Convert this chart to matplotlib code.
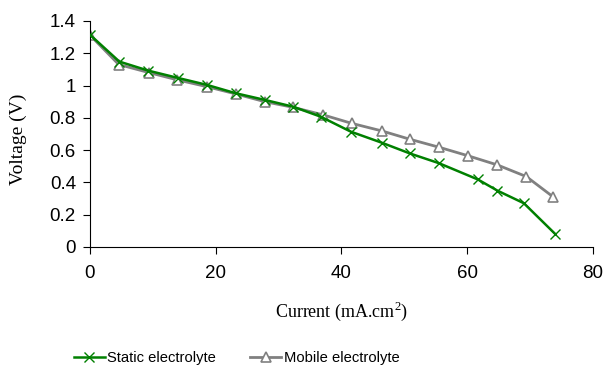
import numpy as np
import matplotlib
matplotlib.use('Agg')
import matplotlib.pyplot as plt

# Static electrolyte
static_i = [0, 4.7, 9.3, 14.0, 18.6, 23.2, 27.8, 32.3, 36.7, 41.5, 46.4, 50.9, 55.5, 61.7, 64.8, 69.0, 74.0]
static_v = [1.315, 1.148, 1.092, 1.047, 1.004, 0.952, 0.911, 0.869, 0.807, 0.714, 0.646, 0.579, 0.519, 0.418, 0.349, 0.271, 0.08]

# Mobile electrolyte
mobile_i = [0, 4.6, 9.4, 13.9, 18.6, 23.2, 27.8, 32.3, 37.1, 41.6, 46.4, 50.9, 55.5, 60.2, 64.8, 69.4, 73.6]
mobile_v = [1.313, 1.13, 1.08, 1.035, 0.993, 0.948, 0.9, 0.865, 0.818, 0.766, 0.719, 0.667, 0.618, 0.564, 0.508, 0.436, 0.312]

green = '#008000'
grey = '#808080'

plt.rcParams['mathtext.fontset'] = 'custom'
plt.rcParams['mathtext.rm'] = 'Liberation Serif'

fig = plt.figure(figsize=(6.07, 3.67), dpi=100)
ax = fig.add_axes([0.148, 0.327, 0.829, 0.616])

ax.plot(static_i, static_v, color=green, lw=1.8, marker='x', ms=7, mew=1.0,
        mec=green, label='Static electrolyte', zorder=3)
ax.plot(mobile_i, mobile_v, color=grey, lw=2.0, marker='^', ms=7.5, mew=1.2,
        mfc='white', mec=grey, label='Mobile electrolyte', zorder=2)

ax.set_xlim(0, 80)
ax.set_ylim(0, 1.4)
ax.set_xticks([0, 20, 40, 60, 80])
ax.set_yticks([0, 0.2, 0.4, 0.6, 0.8, 1, 1.2, 1.4])
ax.set_yticklabels(['0', '0.2', '0.4', '0.6', '0.8', '1', '1.2', '1.4'])
for s in ['top', 'right']:
    ax.spines[s].set_visible(False)
ax.tick_params(direction='out', length=5, labelsize=13.5)
ax.tick_params(axis='x', pad=8)
ax.tick_params(axis='y', pad=5)
for lab in ax.get_xticklabels() + ax.get_yticklabels():
    lab.set_family('Liberation Sans')

ax.set_xlabel('Current (mA.cm$^2$)', family='Liberation Serif', fontsize=13)
ax.set_ylabel('Voltage (V)', family='Liberation Serif', fontsize=14)
ax.xaxis.set_label_coords(0.5, -0.235)
ax.yaxis.set_label_coords(-0.124, 0.475)

leg = fig.legend(loc='center', bbox_to_anchor=(0.39, 0.025), ncol=2, frameon=False,
                 prop={'family': 'Liberation Sans', 'size': 10.6}, handlelength=2.1,
                 handletextpad=0.2, columnspacing=2.3)

fig.savefig('out.png', dpi=100)
